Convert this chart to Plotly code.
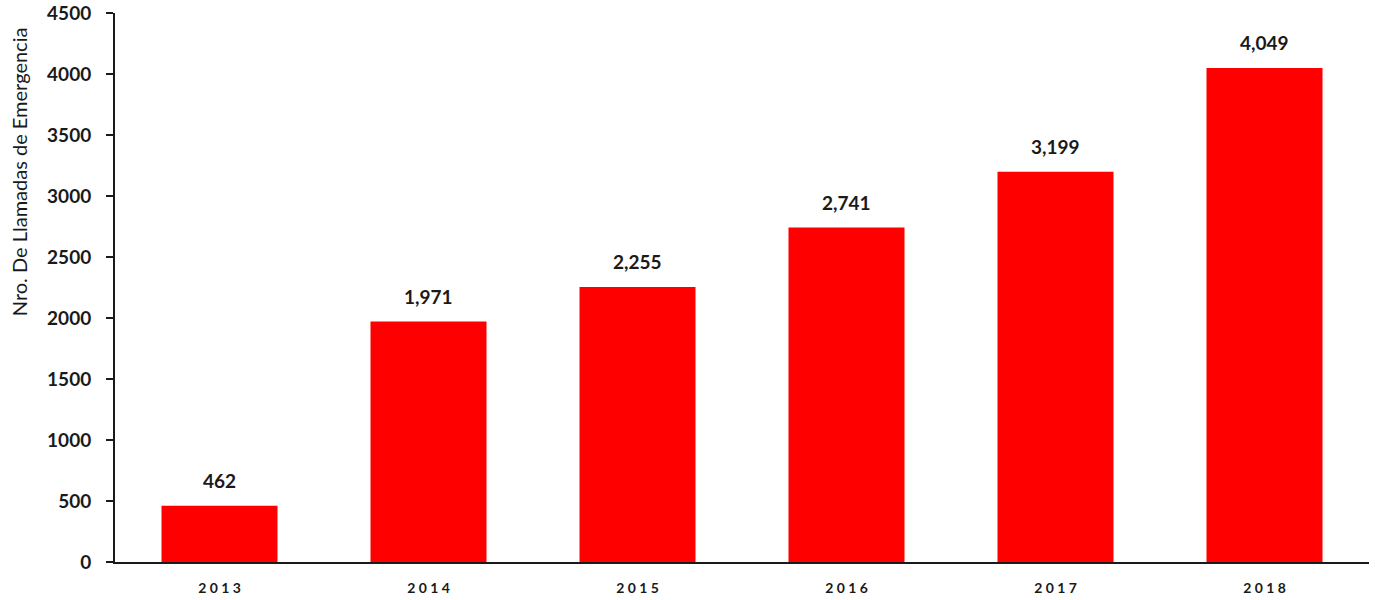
import plotly.graph_objects as go

years = ["2013", "2014", "2015", "2016", "2017", "2018"]
calls = [462, 1971, 2255, 2741, 3199, 4049]
y_ticks = [0, 500, 1000, 1500, 2000, 2500, 3000, 3500, 4000, 4500]
y_title = "Nro. De Llamadas de Emergencia"

# letter-spaced category labels (non-numeric strings keep the axis categorical)
spaced = [" ".join(y) for y in years]

fig = go.Figure()
fig.add_trace(go.Bar(
    x=spaced, y=calls, marker=dict(color="#ff0000", line=dict(width=0)),
    width=0.555, hoverinfo="skip",
))
for x, v in zip(spaced, calls):
    fig.add_annotation(x=x, y=v, text=f"{v:,}", showarrow=False,
                       yanchor="bottom", yshift=12,
                       font=dict(family="Lato", size=19, color="#1a1a1a", weight="bold"))

fig.add_annotation(xref="paper", yref="paper", x=0, y=0.71, xshift=-96,
                   xanchor="center", yanchor="middle", textangle=-90,
                   text=y_title, showarrow=False,
                   font=dict(family="Lato", size=20, color="#1a1a1a"))

fig.update_layout(
    width=1375, height=600,
    margin=dict(l=115, r=6, t=13, b=38),
    plot_bgcolor="white", paper_bgcolor="white",
    showlegend=False,
    font=dict(family="Lato", color="#1a1a1a"),
)
fig.update_xaxes(
    type="category",
    showline=True, linecolor="#1a1a1a", linewidth=2,
    ticks="", showgrid=False, automargin=False, tickangle=0,
    ticklabelstandoff=12,
    tickfont=dict(family="Lato", size=14, weight="bold", color="#1a1a1a"),
)
fig.update_yaxes(
    range=[0, 4500], tickmode="array", tickvals=y_ticks,
    showline=True, linecolor="#1a1a1a", linewidth=2,
    ticks="outside", ticklen=7, tickwidth=2, tickcolor="#1a1a1a",
    showgrid=False, zeroline=False, automargin=False,
    ticklabelstandoff=11, ticklabeloverflow="allow",
    tickfont=dict(family="Lato", size=19, weight="bold", color="#1a1a1a"),
)
fig.write_html("out.html", config={"displayModeBar": False},
               post_script="document.body.style.margin='0';")
